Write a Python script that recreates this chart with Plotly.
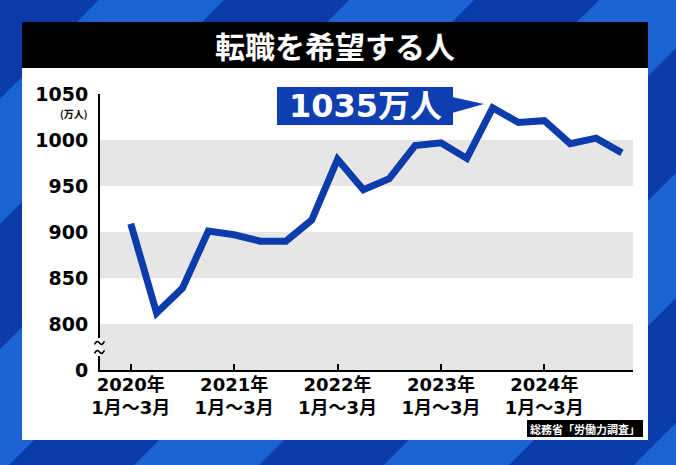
import plotly.graph_objects as go

# ---- data ----
quarters = list(range(20))  # 2020 Q1 ... 2024 Q4
values = [909, 812, 839, 901, 897, 890, 890, 913, 979, 946,
          958, 994, 997, 980, 1035, 1019, 1021, 996, 1002, 986]
x_tick_vals = [0, 4, 8, 12, 16]
x_tick_text = ["2020年<br>1月〜3月", "2021年<br>1月〜3月", "2022年<br>1月〜3月",
               "2023年<br>1月〜3月", "2024年<br>1月〜3月"]
y_tick_vals = [750, 800, 850, 900, 950, 1000, 1050]
y_tick_text = ["0", "800", "850", "900", "950", "1000", "1050"]
band_ranges = [(750, 800), (850, 900), (950, 1000)]
title_text = "転職を希望する人"
callout_text = "1035万人"
unit_text = "(万人)"
source_text = "総務省「労働力調査」"

# ---- geometry ----
W, H = 676, 465
L, R, T, B = 100, 43, 94, 95
PW = W - L - R
PH = H - T - B


def PX(x):
    return (x - L) / PW


def PY(y):
    return (T + PH - y) / PH


DARK = "#0b3ba8"
LIGHT = "#1a63d2"
LINE = "#0c3cab"
FONT = "DejaVu Sans, Noto Sans CJK JP, sans-serif"
CJK = "Noto Sans CJK JP, sans-serif"

shapes = []
# diagonal stripes
for k in range(-3, 8):
    c0 = 99 + 250 * k
    c1 = c0 + 125
    pts = [(c0, 0), (c1, 0), (c1 - H, H), (c0 - H, H)]
    path = "M " + " L ".join(f"{PX(a):.4f},{PY(b):.4f}" for a, b in pts) + " Z"
    shapes.append(dict(type="path", xref="paper", yref="paper", path=path,
                       fillcolor=LIGHT, line=dict(width=0), layer="below"))
# white panel
shapes.append(dict(type="rect", xref="paper", yref="paper",
                   x0=PX(22), x1=PX(648), y0=PY(440), y1=PY(68),
                   fillcolor="white", line=dict(width=0), layer="below"))
# title bar
shapes.append(dict(type="rect", xref="paper", yref="paper",
                   x0=PX(22), x1=PX(648), y0=PY(68), y1=PY(22),
                   fillcolor="black", line=dict(width=0), layer="below"))
# gray bands
for lo, hi in band_ranges:
    shapes.append(dict(type="rect", xref="paper", yref="y",
                       x0=0, x1=1, y0=lo, y1=hi,
                       fillcolor="#e6e6e6", line=dict(width=0), layer="below"))
# axis break: white gap + two tildes
shapes.append(dict(type="rect", xref="paper", yref="paper",
                   x0=PX(95), x1=PX(101.2), y0=PY(356), y1=PY(338),
                   fillcolor="white", line=dict(width=0), layer="above"))
for cy in (343, 352):
    p = (f"M {PX(94.5):.4f},{PY(cy+1.5):.4f} "
         f"Q {PX(97.2):.4f},{PY(cy-3.5):.4f} {PX(99.5):.4f},{PY(cy):.4f} "
         f"Q {PX(101.8):.4f},{PY(cy+3.5):.4f} {PX(104.5):.4f},{PY(cy-1.5):.4f}")
    shapes.append(dict(type="path", xref="paper", yref="paper", path=p,
                       line=dict(color="black", width=1.6), layer="above"))
# callout box + pointer
shapes.append(dict(type="rect", xref="paper", yref="paper",
                   x0=PX(277), x1=PX(453), y0=PY(125), y1=PY(87),
                   fillcolor="#0f3eb0", line=dict(width=0), layer="above"))
tri = (f"M {PX(452):.4f},{PY(97):.4f} L {PX(484):.4f},{PY(104):.4f} "
       f"L {PX(452):.4f},{PY(113):.4f} Z")
shapes.append(dict(type="path", xref="paper", yref="paper", path=tri,
                   fillcolor="#0f3eb0", line=dict(width=0), layer="above"))
# source box
shapes.append(dict(type="rect", xref="paper", yref="paper",
                   x0=PX(527), x1=PX(643), y0=PY(437), y1=PY(420),
                   fillcolor="black", line=dict(width=0), layer="above"))

annotations = [
    dict(text=title_text, xref="paper", yref="paper", x=PX(335), y=PY(45),
         showarrow=False, font=dict(family=CJK, size=30, color="white", weight="bold"),
         xanchor="center", yanchor="middle"),
    dict(text=callout_text, xref="paper", yref="paper", x=PX(365), y=PY(106),
         showarrow=False, font=dict(family=FONT, size=32, color="white", weight="bold"),
         xanchor="center", yanchor="middle"),
    dict(text=unit_text, xref="paper", yref="paper", x=PX(74), y=PY(113),
         showarrow=False, font=dict(family=CJK, size=10, color="black", weight="bold"),
         xanchor="center", yanchor="middle"),
    dict(text=source_text, xref="paper", yref="paper", x=PX(585), y=PY(428.5),
         showarrow=False, font=dict(family=CJK, size=11, color="white", weight="bold"),
         xanchor="center", yanchor="middle"),
]

fig = go.Figure()
fig.add_trace(go.Scatter(x=quarters, y=values, mode="lines",
                         line=dict(color=LINE, width=7), hoverinfo="skip"))

fig.update_layout(
    width=W, height=H,
    margin=dict(l=L, r=R, t=T, b=B),
    paper_bgcolor=DARK,
    plot_bgcolor="rgba(0,0,0,0)",
    showlegend=False,
    shapes=shapes,
    annotations=annotations,
    font=dict(family=FONT, color="black"),
    xaxis=dict(range=[-1.19, 19.43], tickvals=x_tick_vals, ticktext=x_tick_text,
               showline=True, linecolor="black", linewidth=2,
               ticks="inside", ticklen=6, tickwidth=2, tickcolor="black",
               showgrid=False, zeroline=False, ticklabelstandoff=-3,
               tickfont=dict(family=FONT, size=18, color="black", weight="bold")),
    yaxis=dict(range=[750, 1050], tickvals=y_tick_vals, ticktext=y_tick_text,
               showline=True, linecolor="black", linewidth=2,
               ticks="", showgrid=False, zeroline=False, ticklabelstandoff=6,
               tickfont=dict(family=FONT, size=19, color="black", weight="bold")),
)

fig.write_html("out.html", config={"displayModeBar": False},
               post_script="document.body.style.margin='0';")
